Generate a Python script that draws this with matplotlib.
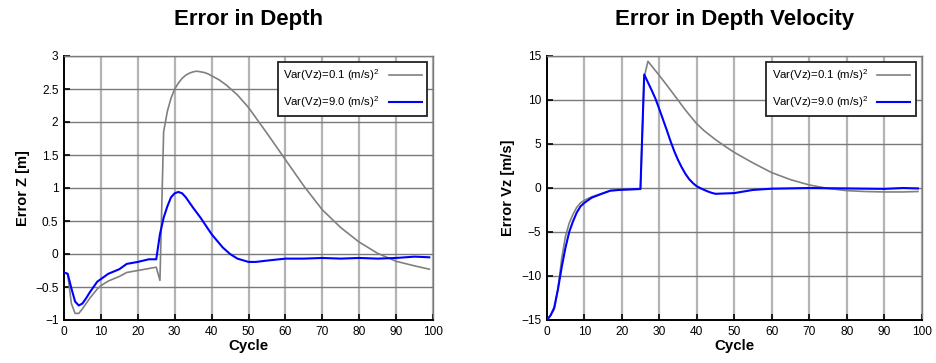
import matplotlib
matplotlib.use("Agg")
import matplotlib.pyplot as plt

plt.rcParams['font.family'] = ['Liberation Sans', 'DejaVu Sans']
plt.rcParams['mathtext.fontset'] = 'custom'
plt.rcParams['mathtext.rm'] = 'Liberation Sans'
plt.rcParams['mathtext.it'] = 'Liberation Sans:italic'
plt.rcParams['mathtext.bf'] = 'Liberation Sans:bold'

# ---- depth error ----
z_low_cycle = [0, 1, 2, 3, 4, 5, 6, 7, 8, 9, 10, 12, 15, 17, 20, 25, 26, 27, 28, 29, 30,
               31, 32, 33, 34, 35, 36, 37, 38, 39, 40, 42, 44, 45, 47, 50, 55, 60, 65, 70,
               75, 80, 85, 90, 95, 99]
z_low = [-0.28, -0.30, -0.75, -0.90, -0.90, -0.83, -0.75, -0.67, -0.60, -0.53, -0.48,
         -0.41, -0.34, -0.28, -0.25, -0.20, -0.40, 1.85, 2.16, 2.36, 2.50, 2.59, 2.66,
         2.71, 2.74, 2.76, 2.77, 2.76, 2.75, 2.73, 2.70, 2.64, 2.56, 2.51, 2.41, 2.22,
         1.83, 1.43, 1.03, 0.67, 0.40, 0.18, 0.01, -0.11, -0.18, -0.23]

z_high_cycle = [0, 1, 2, 3, 4, 5, 6, 7, 8, 9, 10, 12, 15, 17, 20, 23, 25, 26, 27, 28, 29,
                30, 31, 32, 33, 35, 37, 40, 43, 45, 47, 50, 52, 55, 60, 65, 70, 75, 80, 85,
                90, 95, 99]
z_high = [-0.28, -0.30, -0.52, -0.72, -0.78, -0.75, -0.67, -0.58, -0.50, -0.42, -0.38,
          -0.30, -0.23, -0.15, -0.12, -0.08, -0.08, 0.30, 0.55, 0.72, 0.86, 0.92, 0.94,
          0.92, 0.86, 0.70, 0.55, 0.30, 0.10, 0.00, -0.07, -0.12, -0.12, -0.10, -0.07,
          -0.07, -0.06, -0.07, -0.06, -0.07, -0.06, -0.04, -0.05]

# ---- depth velocity error ----
v_low_cycle = [0, 1, 2, 3, 4, 5, 6, 7, 8, 9, 10, 12, 15, 17, 20, 25, 26, 27, 30, 32, 35,
               37, 40, 42, 45, 47, 50, 55, 60, 65, 70, 75, 80, 85, 90, 95, 99]
v_low = [-15.0, -14.5, -13.8, -11.5, -8.0, -5.5, -4.0, -3.0, -2.2, -1.7, -1.4, -1.0,
         -0.6, -0.3, -0.2, -0.15, 12.6, 14.4, 12.8, 11.7, 10.0, 8.85, 7.3, 6.5, 5.5, 4.9,
         4.05, 2.85, 1.75, 0.95, 0.35, -0.05, -0.3, -0.4, -0.45, -0.45, -0.4]

v_high_cycle = [0, 1, 2, 3, 4, 5, 6, 7, 8, 9, 10, 12, 15, 17, 20, 25, 26, 27, 28, 29, 30,
                31, 32, 33, 34, 35, 36, 37, 38, 39, 40, 41, 42, 43, 44, 45, 50, 55, 60,
                70, 80, 90, 95, 99]
v_high = [-15.0, -14.5, -13.6, -11.5, -9.0, -6.8, -5.0, -3.8, -2.8, -2.1, -1.7, -1.1,
          -0.6, -0.3, -0.2, -0.1, 12.9, 12.0, 11.1, 10.15, 9.0, 7.8, 6.6, 5.35, 4.2, 3.2,
          2.35, 1.6, 1.0, 0.55, 0.2, -0.02, -0.22, -0.4, -0.55, -0.66, -0.58, -0.22,
          -0.08, 0.0, -0.05, -0.1, 0.0, -0.05]

labels = [r'Var(Vz)=0.1 (m/s)$^2$', r'Var(Vz)=9.0 (m/s)$^2$']
x_ticks = list(range(0, 101, 10))
z_ticks = [-1, -0.5, 0, 0.5, 1, 1.5, 2, 2.5, 3]
z_ticklabels = ['\u22121', '\u22120.5', '0', '0.5', '1', '1.5', '2', '2.5', '3']
v_ticks = [-15, -10, -5, 0, 5, 10, 15]
v_ticklabels = ['\u221215', '\u221210', '\u22125', '0', '5', '10', '15']

GRAY = '#808080'
BLUE = '#0000ff'

fig = plt.figure(figsize=(9.36, 3.63), dpi=100)
ax1 = fig.add_axes([64 / 936, 1 - 320 / 363, (433 - 64) / 936, 264 / 363])
ax2 = fig.add_axes([546.7 / 936, 1 - 320 / 363, (921.7 - 546.7) / 936, 264 / 363])


def style(ax, yticks, yticklabels, ylim, title, ylabel):
    ax.set_xlim(0, 100)
    ax.set_ylim(*ylim)
    ax.set_xticks(x_ticks)
    ax.set_yticks(yticks)
    ax.set_yticklabels(yticklabels)
    for x in x_ticks[1:]:
        ax.axvline(x, color='#b4b4b4', lw=1.6, zorder=0)
    for y in yticks[1:]:
        ax.axhline(y, color='#7a7a7a', lw=1.0, zorder=0)
    for s in ['top', 'right']:
        ax.spines[s].set_color('#7a7a7a')
        ax.spines[s].set_linewidth(1.0)
    for s in ['left', 'bottom']:
        ax.spines[s].set_color('black')
        ax.spines[s].set_linewidth(1.4)
    ax.tick_params(direction='in', length=4, width=1.2, labelsize=8.6, pad=4,
                   color='black')
    ax.set_title(title, fontsize=16, fontweight='bold', pad=22)
    ax.set_xlabel('Cycle', fontsize=10.8, fontweight='bold', labelpad=1)
    ax.set_ylabel(ylabel, fontsize=10.5, fontweight='bold', labelpad=4)


ax1.plot(z_low_cycle, z_low, color=GRAY, lw=1.2, label=labels[0], zorder=3)
ax1.plot(z_high_cycle, z_high, color=BLUE, lw=1.5, label=labels[1], zorder=4)
style(ax1, z_ticks, z_ticklabels, (-1, 3), 'Error in Depth', 'Error Z [m]')

ax2.plot(v_low_cycle, v_low, color=GRAY, lw=1.2, label=labels[0], zorder=3)
ax2.plot(v_high_cycle, v_high, color=BLUE, lw=1.5, label=labels[1], zorder=4)
style(ax2, v_ticks, v_ticklabels, (-15, 15), 'Error in Depth Velocity', 'Error Vz [m/s]')

for ax in (ax1, ax2):
    leg = ax.legend(loc='upper right', markerfirst=False, fontsize=8.2, fancybox=False,
                    framealpha=1, edgecolor='#222222', labelspacing=1.0,
                    handlelength=2.9, borderaxespad=0.5, borderpad=0.5,
                    handletextpad=0.8)
    leg.get_frame().set_linewidth(1.3)

fig.savefig('out.png', dpi=100)
